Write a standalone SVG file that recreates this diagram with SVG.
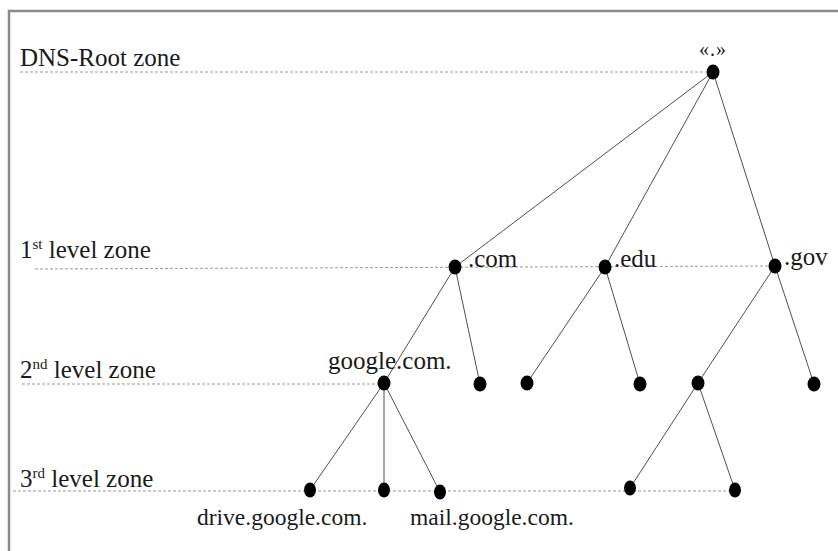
<svg xmlns="http://www.w3.org/2000/svg" width="838" height="551" viewBox="0 0 838 551">
<style>
text{font-family:"Liberation Serif","Times New Roman",serif;fill:#1a1a1a}
.lvl{font-size:25px}
.lbl{font-size:25px}
.sm{font-size:23.5px}
.sup{font-size:15px}
.dash{stroke:#9a9a9a;stroke-width:1;stroke-dasharray:3 2;fill:none}
.edge{stroke:#505050;stroke-width:1;fill:none}
.node{fill:#000}
</style>
<rect x="0" y="0" width="838" height="551" fill="#fff"/>
<path d="M9 560 V11 H850" fill="none" stroke="#8a8a8a" stroke-width="2.5"/>
<g id="levels">
<text class="lvl" x="20" y="66">DNS-Root zone</text>
<text class="lvl" x="20" y="258">1<tspan class="sup" dy="-9">st</tspan><tspan dy="9"> level zone</tspan></text>
<text class="lvl" x="20" y="378">2<tspan class="sup" dy="-9">nd</tspan><tspan dy="9"> level zone</tspan></text>
<text class="lvl" x="20" y="487">3<tspan class="sup" dy="-9">rd</tspan><tspan dy="9"> level zone</tspan></text>
</g>
<g id="guides">
<line class="dash" x1="20" y1="72" x2="706" y2="72"/>
<line class="dash" x1="35" y1="269" x2="770" y2="266"/>
<line class="dash" x1="22" y1="384" x2="378" y2="384"/>
<line class="dash" x1="13" y1="491" x2="740" y2="491"/>
</g>
<g id="connectors">
<line class="edge" x1="713" y1="72" x2="455" y2="267"/>
<line class="edge" x1="713" y1="72" x2="605" y2="267"/>
<line class="edge" x1="713" y1="72" x2="775" y2="266"/>
<line class="edge" x1="455" y1="267" x2="384" y2="383"/>
<line class="edge" x1="455" y1="267" x2="480" y2="384"/>
<line class="edge" x1="605" y1="267" x2="527" y2="383"/>
<line class="edge" x1="605" y1="267" x2="640" y2="384"/>
<line class="edge" x1="775" y1="266" x2="698" y2="383"/>
<line class="edge" x1="775" y1="266" x2="814" y2="384"/>
<line class="edge" x1="384" y1="383" x2="310" y2="490"/>
<line class="edge" x1="384" y1="383" x2="384" y2="490"/>
<line class="edge" x1="384" y1="383" x2="440" y2="492"/>
<line class="edge" x1="698" y1="383" x2="630" y2="488"/>
<line class="edge" x1="698" y1="383" x2="735" y2="490"/>
</g>
<g id="root"><ellipse class="node" cx="713" cy="72" rx="6.5" ry="7.5"/><text x="713" y="56" font-size="20" text-anchor="middle" letter-spacing="1">«.»</text></g>
<g id="com"><ellipse class="node" cx="455" cy="267" rx="6.5" ry="7.5"/><text class="lbl" x="468" y="267">.com</text></g>
<g id="edu"><ellipse class="node" cx="605" cy="267" rx="6.5" ry="7.5"/><text class="lbl" x="614" y="267">.edu</text></g>
<g id="gov"><ellipse class="node" cx="775" cy="266" rx="6.5" ry="7.5"/><text class="lbl" x="784" y="265">.gov</text></g>
<g id="google"><ellipse class="node" cx="384" cy="383" rx="6.5" ry="7.5"/><text class="lbl" x="328" y="369">google.com.</text></g>
<g id="com2"><ellipse class="node" cx="480" cy="384" rx="6.5" ry="7.5"/></g>
<g id="edu1"><ellipse class="node" cx="527" cy="383" rx="6.5" ry="7.5"/></g>
<g id="edu2"><ellipse class="node" cx="640" cy="384" rx="6.5" ry="7.5"/></g>
<g id="gov1"><ellipse class="node" cx="698" cy="383" rx="6.5" ry="7.5"/></g>
<g id="gov2"><ellipse class="node" cx="814" cy="384" rx="6.5" ry="7.5"/></g>
<g id="drive"><ellipse class="node" cx="310" cy="490" rx="6" ry="7.5"/></g>
<g id="g2"><ellipse class="node" cx="384" cy="490" rx="6" ry="7.5"/></g>
<g id="mail"><ellipse class="node" cx="440" cy="492" rx="6" ry="7.5"/></g>
<g id="gov1a"><ellipse class="node" cx="630" cy="488" rx="6" ry="7.5"/></g>
<g id="gov1b"><ellipse class="node" cx="735" cy="490" rx="6" ry="7.5"/></g>
<g id="bottom-labels">
<text class="sm" x="197" y="525">drive.google.com.</text>
<text class="sm" x="410" y="525">mail.google.com.</text>
</g>
</svg>
